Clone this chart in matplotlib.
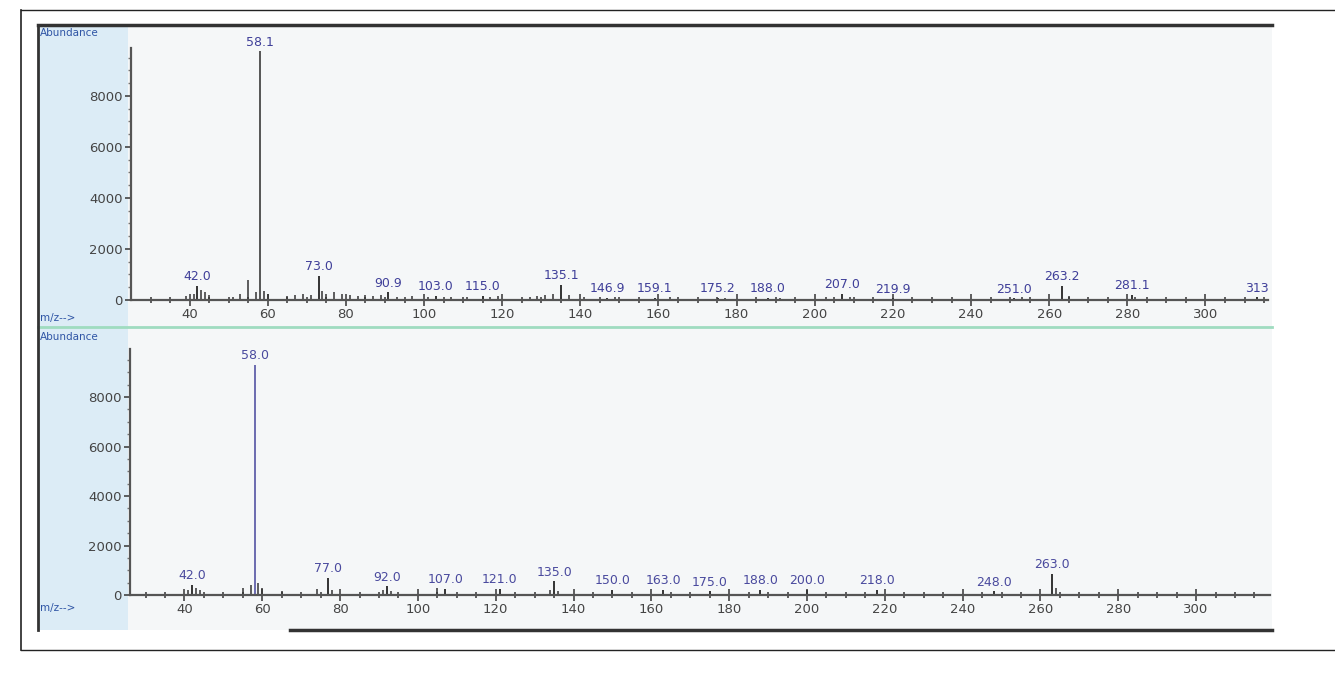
import matplotlib
matplotlib.use("Agg")
import matplotlib.pyplot as plt
from matplotlib.lines import Line2D
from matplotlib.patches import Rectangle

# ---- spectrum 1 (top) ----
top_mz = [42.0, 58.1, 73.0, 90.9, 103.0, 115.0, 135.1, 146.9, 159.1, 175.2,
          188.0, 207.0, 219.9, 251.0, 263.2, 281.1, 313.2]
top_int = [550, 9750, 950, 300, 150, 150, 600, 80, 80, 80,
           80, 250, 60, 60, 550, 200, 100]
top_lbl = ["42.0", "58.1", "73.0", "90.9", "103.0", "115.0", "135.1", "146.9", "159.1",
           "175.2", "188.0", "207.0", "219.9", "251.0", "263.2", "281.1", "313"]
top_minor_mz = [39, 41, 43, 44, 45, 51, 53, 55, 57, 59, 60, 65, 67, 69, 71, 74, 75, 77,
                79, 81, 83, 85, 87, 89, 93, 97, 101, 107, 111, 117, 119, 127, 129, 131,
                133, 137, 141, 149, 163, 177, 191, 203, 209, 253, 265, 282]
top_minor_int = [150, 250, 400, 300, 200, 120, 250, 800, 300, 350, 250, 150, 200, 250,
                 200, 350, 250, 300, 250, 200, 150, 200, 150, 200, 120, 150, 120, 100,
                 120, 100, 150, 120, 150, 200, 250, 200, 100, 120, 100, 80, 80, 120,
                 100, 100, 150, 120]

# ---- spectrum 2 (bottom, library match) ----
bot_mz = [42.0, 58.0, 77.0, 92.0, 107.0, 121.0, 135.0, 150.0, 163.0, 175.0,
          188.0, 200.0, 218.0, 248.0, 263.0]
bot_int = [400, 9300, 700, 350, 250, 250, 550, 200, 200, 150,
           200, 200, 200, 150, 850]
bot_lbl = ["42.0", "58.0", "77.0", "92.0", "107.0", "121.0", "135.0", "150.0", "163.0",
           "175.0", "188.0", "200.0", "218.0", "248.0", "263.0"]
bot_minor_mz = [41, 43, 44, 55, 57, 59, 60, 65, 74, 78, 91, 93, 105, 134, 136, 264]
bot_minor_int = [200, 300, 200, 300, 400, 500, 300, 150, 250, 200, 200, 150, 300, 200,
                 150, 300]

yticks = [0, 2000, 4000, 6000, 8000]

W, H = 1335, 675
fig = plt.figure(figsize=(W / 100, H / 100), dpi=100)
fig.patch.set_facecolor("white")


def fx(px):
    return px / W


def fy(py):
    return 1 - py / H


# screenshot background with light blue band at left
fig.add_artist(Rectangle((fx(38), fy(630)), fx(1272 - 38), fy(25) - fy(630),
                         transform=fig.transFigure, facecolor="#f5f7f8", edgecolor="none", zorder=0))
fig.add_artist(Rectangle((fx(38), fy(630)), fx(128 - 38), fy(25) - fy(630),
                         transform=fig.transFigure, facecolor="#dcecf6", edgecolor="none", zorder=0))


def panel(rect, xlim, ylim, mz, inten, lbl, mmz, mint, main_color, label_color):
    ax = fig.add_axes(rect)
    ax.patch.set_alpha(0)
    ax.set_xlim(*xlim)
    ax.set_ylim(*ylim)
    ax.vlines(mmz, 0, mint, color="#333333", lw=1.1)
    colors = [main_color if v > 5000 else "#333333" for v in inten]
    ax.vlines(mz, 0, inten, color=colors, lw=1.4)
    for m, v, t in zip(mz, inten, lbl):
        ax.annotate(t, (m, v), xytext=(0, 2), textcoords="offset points",
                    ha="center", va="bottom", fontsize=9, color=label_color)
    for s in ["top", "right"]:
        ax.spines[s].set_visible(False)
    for s in ["left", "bottom"]:
        ax.spines[s].set_color("#555555")
        ax.spines[s].set_linewidth(1.6)
    ax.set_yticks(yticks)
    ax.set_yticks(range(0, 10000, 500), minor=True)
    ax.set_xticks(range(40, 301, 20))
    ax.set_xticks(range(30, int(xlim[1]) + 1, 5), minor=True)
    ax.tick_params(axis="x", which="major", direction="inout", length=9, width=1.2,
                   labelsize=9.5, labelcolor="#444444", color="#444444", pad=1)
    ax.tick_params(axis="x", which="minor", direction="inout", length=4, width=1.2,
                   color="#444444")
    ax.tick_params(axis="y", which="major", direction="out", length=4, width=1.2,
                   labelsize=9.5, labelcolor="#444444", color="#444444", pad=2)
    ax.tick_params(axis="y", which="minor", direction="out", length=2, width=1,
                   color="#777777")
    return ax


top_ax = panel([fx(131), fy(300), fx(1268 - 131), fy(48) - fy(300)], (25, 316), (0, 9880),
               top_mz, top_int, top_lbl, top_minor_mz, top_minor_int, "#555555", "#3f3f99")
bot_ax = panel([fx(130), fy(595), fx(1270 - 130), fy(349) - fy(595)], (26, 319), (0, 9940),
               bot_mz, bot_int, bot_lbl, bot_minor_mz, bot_minor_int, "#6b6bb0", "#4a4a9e")

# axis captions
for y in (33, 337):
    fig.text(fx(40), fy(y), "Abundance", fontsize=7.5, color="#2f55a5", va="center")
for y in (318, 608):
    fig.text(fx(40), fy(y), "m/z-->", fontsize=7.5, color="#2f55a5", va="center")

# frames
fig.add_artist(Line2D([fx(38), fx(1272)], [fy(327), fy(327)], transform=fig.transFigure,
                      color="#9fdcc0", lw=2))
fig.add_artist(Line2D([fx(38), fx(1272)], [fy(25), fy(25)], transform=fig.transFigure,
                      color="#333333", lw=2.5))
fig.add_artist(Line2D([fx(38), fx(38)], [fy(25), fy(630)], transform=fig.transFigure,
                      color="#333333", lw=2))
fig.add_artist(Line2D([fx(290), fx(1272)], [fy(630), fy(630)], transform=fig.transFigure,
                      color="#333333", lw=2.5))
fig.add_artist(Line2D([fx(21), fx(1335), ], [fy(10), fy(10)], transform=fig.transFigure,
                      color="#222222", lw=1))
fig.add_artist(Line2D([fx(21), fx(21)], [fy(10), fy(650)], transform=fig.transFigure,
                      color="#222222", lw=1.2))
fig.add_artist(Line2D([fx(21), fx(1335)], [fy(650), fy(650)], transform=fig.transFigure,
                      color="#222222", lw=1))

fig.savefig("out.png", dpi=100)
